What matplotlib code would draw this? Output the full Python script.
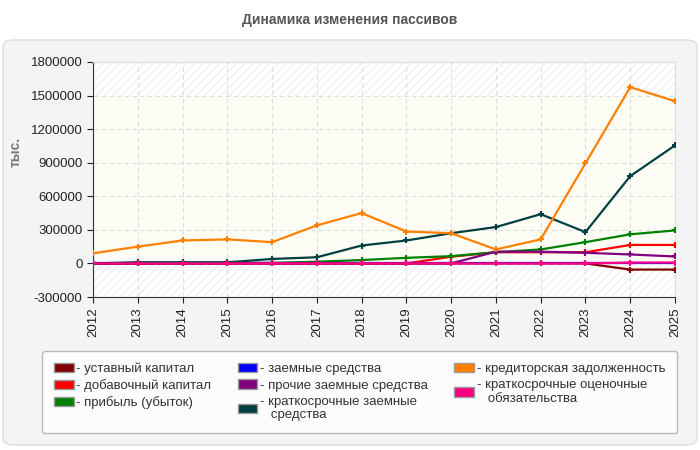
import matplotlib.pyplot as plt
from matplotlib.patches import FancyBboxPatch, Patch
from matplotlib.ticker import FuncFormatter

plt.rcParams['font.family'] = ['Liberation Sans', 'DejaVu Sans']

years = list(range(2012, 2026))

# values, thousands
ustavny = [0, 0, 0, 0, 0, 0, 0, 0, 0, 0, 0, 0, -55000, -55000]
dobavochny = [0, 0, 0, 0, 0, 0, 0, 0, 60000, 100000, 100000, 100000, 165000, 165000]
pribyl = [0, 5000, 5000, 5000, 5000, 15000, 30000, 50000, 65000, 100000, 125000, 190000, 260000, 295000]
zaemnye = [0] * 14
prochie = [0, 0, 0, 0, 0, 0, 0, 0, 0, 105000, 105000, 95000, 80000, 62000]
kratk_zaem = [0, 10000, 10000, 10000, 40000, 55000, 160000, 205000, 270000, 325000, 440000, 280000, 780000, 1055000]
kreditor = [90000, 150000, 205000, 215000, 190000, 340000, 450000, 285000, 270000, 125000, 215000, 895000, 1575000, 1450000]
ocenoch = [0, 0, 0, 0, 0, 0, 0, 0, 0, 0, 0, 0, 8000, 8000]

series = [
    ("уставный капитал", ustavny, "#800000"),
    ("добавочный капитал", dobavochny, "#ff0000"),
    ("прибыль (убыток)", pribyl, "#008000"),
    ("заемные средства", zaemnye, "#0000ff"),
    ("прочие заемные средства", prochie, "#800080"),
    ("краткосрочные заемные\n   средства", kratk_zaem, "#004040"),
    ("кредиторская задолженность", kreditor, "#ff8000"),
    ("краткосрочные оценочные\n   обязательства", ocenoch, "#ff0080"),
]

fig = plt.figure(figsize=(7, 4.5), dpi=100)
fig.patch.set_facecolor("white")

# grey rounded panel
panel = FancyBboxPatch((3 / 700, 5 / 450), 694 / 700, 405 / 450,
                       boxstyle="round,pad=0,rounding_size=0.015",
                       transform=fig.transFigure, facecolor="#f4f4f4",
                       edgecolor="#dddddd", lw=1, zorder=-5)
fig.patches.append(panel)

fig.text(0.5, 1 - 20 / 450, "Динамика изменения пассивов", ha="center", va="center",
         fontsize=10, fontweight="bold", color="#555555")
fig.text(16 / 700, 1 - 152 / 450, "тыс.", rotation=90, ha="center", va="center",
         fontsize=10, fontweight="bold", color="#777777")

ax = fig.add_axes([93 / 700, 1 - 297 / 450, 582 / 700, 235 / 450])
ax.set_zorder(2)
ax.set_facecolor("white")
ax.axhspan(0, 1500000, color="#fdfdf6", zorder=0)
ax.axhspan(1500000, 1800000, facecolor="none", hatch="////", edgecolor="#f0f0f0", lw=0, zorder=0)
ax.axhspan(-300000, 0, facecolor="none", hatch="////", edgecolor="#f0f0f0", lw=0, zorder=0)

for name, vals, col in series:
    ax.plot(years, vals, color=col, lw=1.6, marker="+", ms=4, mew=1.5, zorder=3)

ax.set_xlim(2012, 2025)
ax.set_ylim(-300000, 1800000)
ax.set_xticks(years)
ax.set_xticklabels([str(y) for y in years], rotation=90)
ax.set_yticks(range(-300000, 1800001, 300000))
ax.yaxis.set_major_formatter(FuncFormatter(lambda v, p: f"{int(v)}"))
ax.tick_params(labelsize=9.5, colors="#222222", length=4)
ax.grid(True, ls=(0, (4, 3)), color="#dddddd", lw=0.8)
for s in ("top", "right"):
    ax.spines[s].set_color("#dddddd")
for s in ("left", "bottom"):
    ax.spines[s].set_color("#333333")

handles = [Patch(facecolor=c, edgecolor="#999999") for _, _, c in series]
labels = ["- " + n for n, _, _ in series]
leg = fig.legend(handles, labels, ncol=3, loc="upper left",
                 bbox_to_anchor=(42 / 700, 1 - 351 / 450), fontsize=9.5,
                 frameon=True, fancybox=True, handlelength=1.5, handleheight=0.7,
                 handletextpad=0.2, columnspacing=2.0, labelspacing=0.3,
                 borderpad=0.9, borderaxespad=0, alignment="left")
leg.set_zorder(3)
leg.get_frame().set_edgecolor("#aaaaaa")
leg.get_frame().set_facecolor("white")
for t in leg.get_texts():
    t.set_color("#333333")

fig.savefig("out.png", dpi=100)
